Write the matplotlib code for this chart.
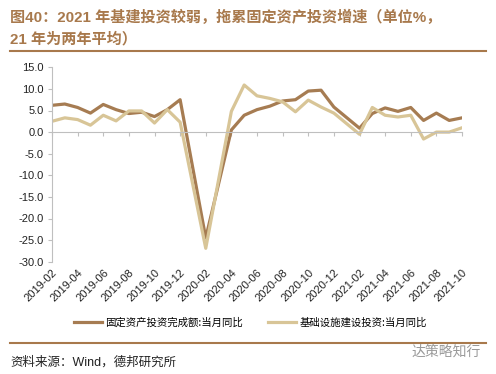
import matplotlib
matplotlib.use("Agg")
import matplotlib.pyplot as plt

plt.rcParams['font.family'] = ['Liberation Sans', 'Noto Sans CJK SC', 'DejaVu Sans']

# monthly data (Jan and Mar-2020 not in the series)
months = ['2019-02', '2019-03', '2019-04', '2019-05', '2019-06', '2019-07', '2019-08',
          '2019-09', '2019-10', '2019-11', '2019-12', '2020-02', '2020-04', '2020-05',
          '2020-06', '2020-07', '2020-08', '2020-09', '2020-10', '2020-11', '2020-12',
          '2021-02', '2021-03', '2021-04', '2021-05', '2021-06', '2021-07', '2021-08',
          '2021-09', '2021-10']
fai = [6.2, 6.5, 5.7, 4.4, 6.4, 5.2, 4.3, 4.6, 3.6, 5.2, 7.5, -24.5, 0.5, 3.9,
       5.2, 6.0, 7.2, 7.5, 9.5, 9.7, 5.8, 0.9, 4.3, 5.6, 4.8, 5.7, 2.7, 4.4, 2.7, 3.3]
infra = [2.5, 3.3, 2.9, 1.6, 3.9, 2.6, 4.9, 4.9, 2.1, 5.2, 2.3, -26.9, 4.8, 10.9,
         8.4, 7.8, 7.0, 4.7, 7.4, 5.8, 4.4, -0.5, 5.7, 3.9, 3.5, 3.9, -1.6, 0.0, 0.0, 1.0]
tick_labels = ['2019-02', '2019-04', '2019-06', '2019-08', '2019-10', '2019-12',
               '2020-02', '2020-04', '2020-06', '2020-08', '2020-10', '2020-12',
               '2021-02', '2021-04', '2021-06', '2021-08', '2021-10']


def month_idx(s):
    y, m = s.split('-')
    return (int(y) - 2019) * 12 + int(m) - 2


x = [month_idx(m) for m in months]
tx = [month_idx(m) for m in tick_labels]

brown = '#A67C52'
beige = '#D8C597'
title_c = '#A8794C'
grey = '#BFBFBF'

fig = plt.figure(figsize=(4.96, 3.74), dpi=100)
ax = fig.add_axes([52 / 496, 1 - 261.7 / 374, (462 - 52) / 496, (261.7 - 67.3) / 374])

ax.plot(x, fai, color=brown, lw=2.3, label='固定资产投资完成额:当月同比')
ax.plot(x, infra, color=beige, lw=2.3, label='基础设施建设投资:当月同比')

ax.set_xlim(0, 32)
ax.set_ylim(-30, 15)
ax.set_yticks(range(-30, 16, 5))
ax.set_yticklabels([f'{v:.1f}' for v in range(-30, 16, 5)], fontsize=8, color='#222222')
ax.tick_params(axis='y', length=3, color=grey, pad=3)

for s in ['top', 'right']:
    ax.spines[s].set_visible(False)
ax.spines['left'].set_color(grey)
ax.spines['bottom'].set_position(('data', 0))
ax.spines['bottom'].set_color(grey)
ax.set_xticks(tx)
ax.tick_params(axis='x', length=3, color=grey, labelbottom=False)

sec = ax.secondary_xaxis(0)
sec.set_xticks(tx)
sec.set_xticklabels(tick_labels, rotation=45, ha='right', va='top',
                    rotation_mode='anchor', fontsize=8, color='#222222')
sec.tick_params(length=0, pad=4)
sec.spines['bottom'].set_visible(False)

fig.legend(loc='center', bbox_to_anchor=(0.505, 0.137), ncol=2, frameon=False,
           handlelength=2.7, handletextpad=0.3, columnspacing=2.4,
           prop={'family': ['Noto Sans CJK SC'], 'size': 7.5})

fig.text(0.02, 1 - 17 / 374, '图40：2021 年基建投资较弱，拖累固定资产投资增速（单位%，',
         fontsize=10.9, fontweight='bold', color=title_c, va='center',
         family=['Liberation Sans', 'Noto Sans CJK SC'])
fig.text(0.02, 1 - 39 / 374, '21 年为两年平均）',
         fontsize=10.9, fontweight='bold', color=title_c, va='center',
         family=['Liberation Sans', 'Noto Sans CJK SC'])

fig.add_artist(plt.Line2D([10 / 496, 486 / 496], [1 - 51 / 374, 1 - 51 / 374],
                          color=title_c, lw=1.5))
fig.add_artist(plt.Line2D([10 / 496, 486 / 496], [1 - 343 / 374, 1 - 343 / 374],
                          color=title_c, lw=1.5))

fig.text(0.02, 1 - 362 / 374, '资料来源：Wind，德邦研究所', fontsize=9, color='#222222',
         va='center', family=['Liberation Sans', 'Noto Sans CJK SC'])
fig.text(0.97, 1 - 352 / 374, '达策略知行', fontsize=10, color='#9A9A9A',
         va='center', ha='right', family=['Noto Sans CJK SC'])

fig.savefig('out.png', dpi=100)
